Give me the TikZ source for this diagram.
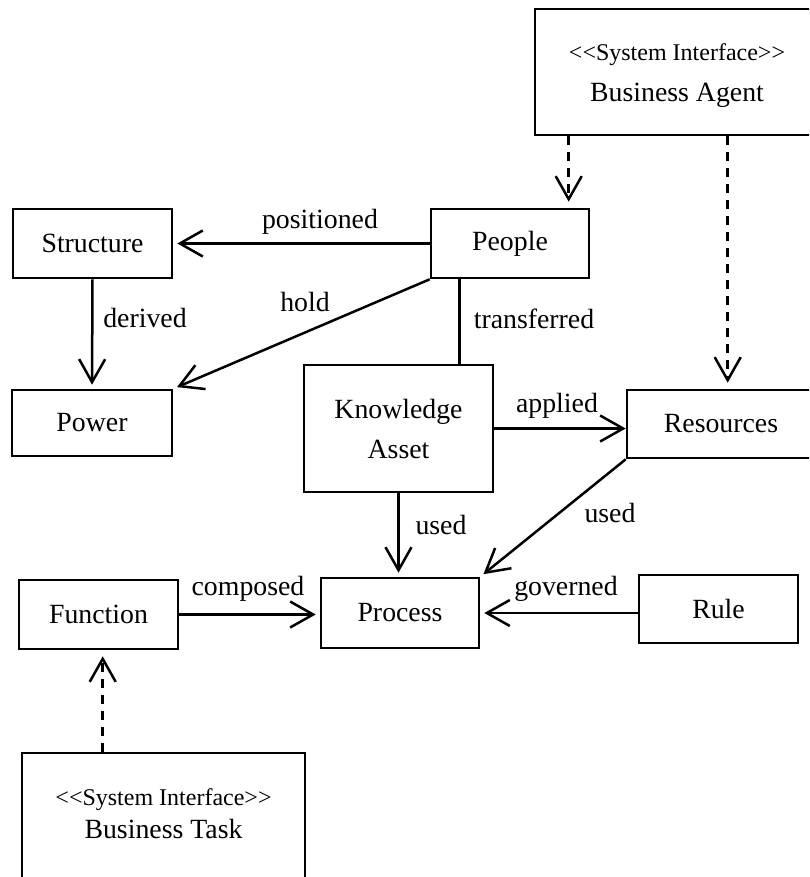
\documentclass[tikz,border=0pt]{standalone}
\usepackage{fontspec}
\setmainfont{Liberation Serif}
\usetikzlibrary{arrows.meta}
% stereotype brackets, kept as plain angle characters
\newcommand{\stl}{<\kern0pt<}
\newcommand{\str}{>\kern0pt>}
\begin{document}
\begin{tikzpicture}[x=1pt,y=-1pt,
  every node/.style={font=\fontsize{27.8}{40}\selectfont},
  box/.style={draw, line width=2.6pt, inner sep=0pt, align=center},
  lbl/.style={anchor=base, inner sep=0pt},
  stereo/.style={anchor=base, inner sep=0pt, font=\fontsize{24}{28}\selectfont},
  link/.style={line width=2.5pt, -{Straight Barb[length=23pt,width=26pt,line width=2.5pt]}, shorten >=4pt},
  plain/.style={line width=2.5pt},
  dep/.style={link, dash pattern=on 9pt off 7pt, shorten >=6pt},
]
\useasboundingbox (0,0) rectangle (809,877);
\clip (0,0) rectangle (809,877);

% classes
\node[box, minimum width=159pt, minimum height=69pt] (structure) at (92.5,243.5) {Structure};
\node[box, minimum width=158pt, minimum height=69pt] (people) at (510,243.5) {People};
\node[box, minimum width=160pt, minimum height=66pt] (power) at (92,423) {Power};
\node[box, minimum width=189pt, minimum height=127pt] (asset) at (398.5,428.5) {Knowledge\\Asset};
\node[box, minimum width=188pt, minimum height=68pt] (resources) at (721,424) {Resources};
\node[box, minimum width=158pt, minimum height=70pt] (process) at (400,613) {Process};
\node[box, minimum width=159pt, minimum height=68pt] (rule) at (718.5,609) {Rule};
\node[box, minimum width=159pt, minimum height=69pt] (function) at (98.5,614.5) {Function};

% interfaces
\node[box, minimum width=284pt, minimum height=126pt] (agent) at (677,72) {};
\node[stereo] (agentst) at (677,61) {\stl System Interface\str};
\node[lbl] (agentname) at (677,102) {Business Agent};
\node[box, minimum width=283pt, minimum height=126pt] (task) at (163.5,816) {};
\node[stereo] (taskst) at (163.5,805) {\stl System Interface\str};
\node[lbl] (taskname) at (163.5,838) {Business Task};

% associations
\draw[link] (people.west) -- (structure.east);
\draw[link] (structure.south) -- (power.north);
\draw[link] (people.south west) -- (power.north east);
\draw[plain] ([xshift=30pt]people.south west) coordinate (tr) -- (tr |- asset.north);
\draw[link, shorten >=0pt] (asset.east) -- (asset.east -| resources.west);
\draw[link] (asset.south) -- (asset.south |- process.north);
\draw[link] (resources.south west) -- (process.north east);
\draw[link] (rule.west |- process.east) -- (process.east);
\draw[link] (function.east) -- (function.east -| process.west);

% realisations
\draw[dep] ([xshift=35pt]agent.south west) coordinate (a1) -- (a1 |- people.north);
\draw[dep] ([xshift=194pt]agent.south west) coordinate (a2) -- (a2 |- resources.north);
\draw[dep] ([xshift=82pt]task.north west) coordinate (t1) -- (t1 |- function.south);

% association labels
\node[lbl] (lpos) at (320,229) {positioned};
\node[lbl] (lder) at (145,327) {derived};
\node[lbl] (lhold) at (305,311) {hold};
\node[lbl] (ltr) at (534,328) {transferred};
\node[lbl] (lapp) at (557,412) {applied};
\node[lbl] (lused1) at (441,534) {used};
\node[lbl] (lused2) at (610,522) {used};
\node[lbl] (lgov) at (566,595) {governed};
\node[lbl] (lcomp) at (248,595) {composed};
\end{tikzpicture}
\end{document}
